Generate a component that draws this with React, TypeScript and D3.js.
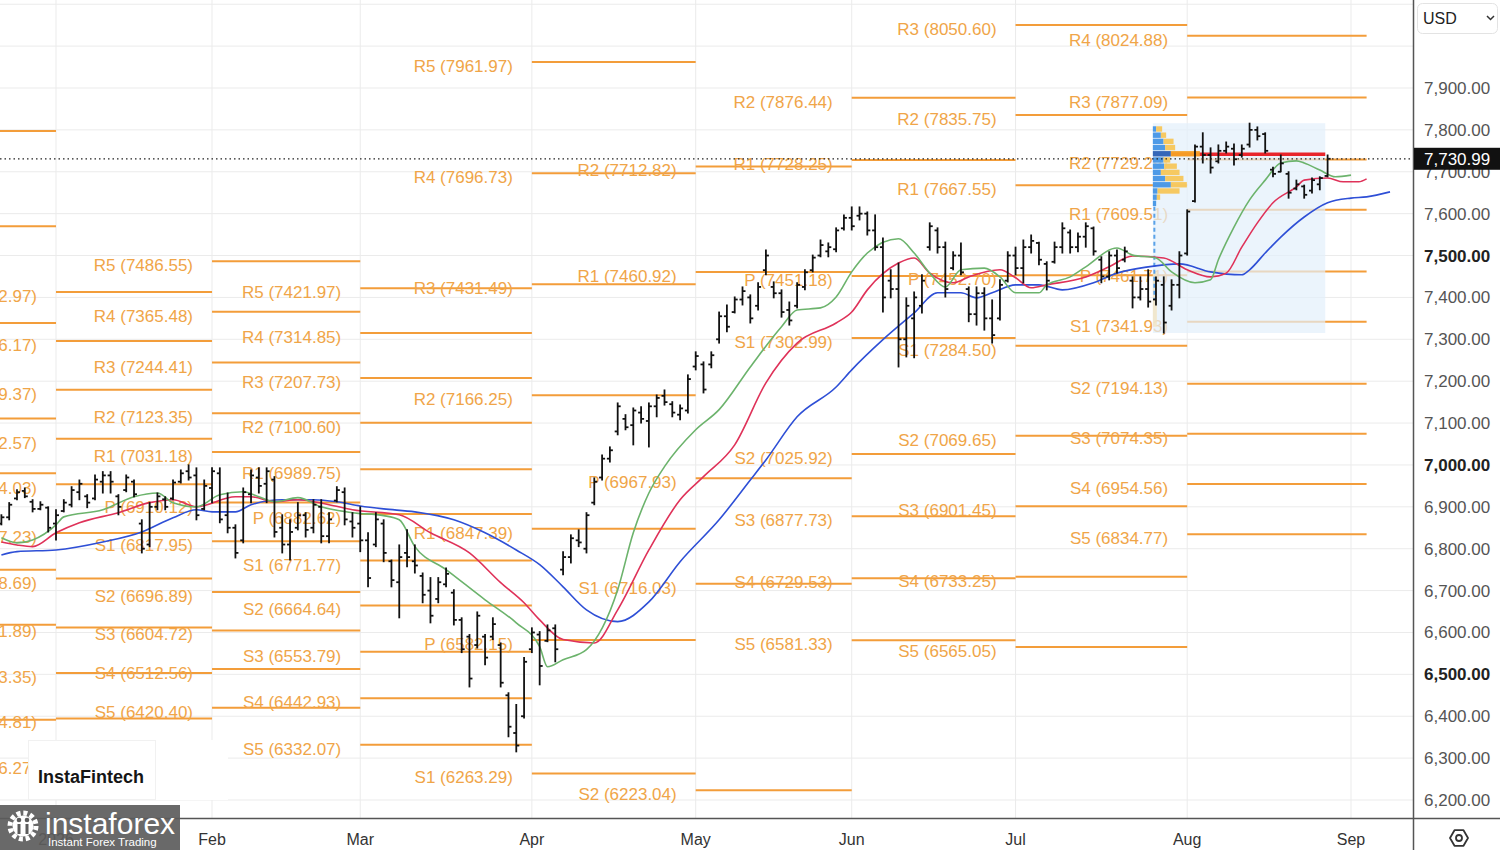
import React, { useEffect, useRef } from 'react';
import * as d3 from 'd3';

const font = 'Liberation Sans, Arial, Helvetica, sans-serif';

// x axis: trading-day index, 0 = first session of Jan 2026
const monthLabels = ['2026', 'Feb', 'Mar', 'Apr', 'May', 'Jun', 'Jul', 'Aug', 'Sep'];
const monthStarts = [0, 20, 39, 61, 82, 102, 123, 145, 166];

// price axis
const priceTicks = [6200, 6300, 6400, 6500, 6600, 6700, 6800, 6900, 7000, 7100, 7200, 7300, 7400, 7500, 7600, 7700, 7800, 7900];
const boldTicks = [6500, 7000, 7500];
const gridPrices = [6200, 6300, 6400, 6500, 6600, 6700, 6800, 6900, 7000, 7100, 7200, 7300, 7400, 7500, 7600, 7700, 7800, 7900, 8000, 8100];
const lastPrice = 7730.99;

// daily OHLC bars, first one is index -7 (late Dec 2025)
const firstBar = -7;
const bars = [
  [6860, 6881, 6857, 6875], [6875, 6910, 6869, 6905], [6920, 6941, 6917, 6935], [6938, 6945, 6922, 6925],
  [6912, 6917, 6888, 6895], [6895, 6912, 6893, 6905], [6898, 6900, 6840, 6850],
  // Jan
  [6860, 6893, 6821, 6880], [6890, 6917, 6888, 6910], [6905, 6948, 6900, 6940], [6935, 6964, 6917, 6955],
  [6925, 6929, 6898, 6910], [6920, 6976, 6917, 6965], [6960, 6984, 6933, 6975], [6975, 6984, 6933, 6960],
  [6925, 6929, 6881, 6900], [6940, 6976, 6936, 6970], [6960, 6964, 6924, 6930], [6860, 6869, 6790, 6800],
  [6810, 6910, 6805, 6900], [6900, 6933, 6893, 6925], [6918, 6924, 6893, 6900], [6920, 6964, 6917, 6958],
  [6960, 6988, 6957, 6980], [6985, 7000, 6964, 6970], [6975, 6993, 6869, 6880], [6895, 6964, 6893, 6950],
  // Feb
  [6945, 6993, 6910, 6985], [6980, 6993, 6862, 6870], [6880, 6933, 6838, 6850], [6850, 6857, 6778, 6790],
  [6820, 6945, 6814, 6935], [6930, 6988, 6910, 6975], [6970, 6993, 6933, 6950], [6955, 6993, 6910, 6985],
  [6965, 6972, 6828, 6840], [6850, 6881, 6790, 6810], [6810, 6869, 6773, 6840], [6850, 6910, 6845, 6880],
  [6880, 6886, 6828, 6845], [6850, 6917, 6838, 6905], [6900, 6917, 6814, 6830], [6830, 6886, 6814, 6870],
  [6915, 6948, 6912, 6940], [6935, 6945, 6857, 6870], [6865, 6886, 6828, 6850],
  // Mar
  [6860, 6900, 6793, 6820], [6820, 6838, 6709, 6730], [6810, 6886, 6805, 6870], [6860, 6869, 6769, 6790],
  [6770, 6773, 6709, 6725], [6720, 6809, 6635, 6780], [6790, 6845, 6757, 6780], [6770, 6809, 6742, 6760],
  [6735, 6742, 6671, 6690], [6700, 6731, 6623, 6640], [6680, 6731, 6671, 6720], [6715, 6754, 6709, 6740],
  [6695, 6702, 6618, 6630], [6630, 6635, 6552, 6560], [6590, 6595, 6470, 6490], [6570, 6649, 6563, 6640],
  [6590, 6595, 6523, 6540], [6590, 6635, 6583, 6620], [6570, 6575, 6470, 6480], [6450, 6456, 6351, 6375],
  [6360, 6428, 6315, 6330], [6400, 6540, 6396, 6530],
  // Apr
  [6560, 6611, 6552, 6600], [6595, 6602, 6475, 6520], [6580, 6618, 6578, 6605], [6610, 6618, 6530, 6560],
  [6750, 6793, 6738, 6780], [6780, 6833, 6766, 6825], [6820, 6845, 6805, 6815], [6800, 6886, 6790, 6880],
  [6910, 6969, 6905, 6960], [6970, 7024, 6964, 7015], [7015, 7043, 7007, 7035], [7080, 7148, 7072, 7140],
  [7110, 7120, 7084, 7090], [7095, 7136, 7048, 7130], [7125, 7139, 7100, 7110], [7105, 7148, 7043, 7140],
  [7140, 7167, 7115, 7160], [7165, 7179, 7143, 7150], [7145, 7151, 7115, 7125], [7120, 7143, 7108, 7135],
  [7130, 7215, 7124, 7205],
  // May
  [7235, 7270, 7227, 7260], [7240, 7246, 7172, 7180], [7240, 7270, 7232, 7262], [7300, 7365, 7291, 7355],
  [7355, 7382, 7318, 7330], [7365, 7401, 7363, 7395], [7395, 7425, 7382, 7415], [7400, 7406, 7339, 7350],
  [7380, 7435, 7370, 7425], [7465, 7513, 7454, 7500], [7425, 7437, 7399, 7410], [7410, 7418, 7353, 7365],
  [7370, 7389, 7334, 7345], [7380, 7435, 7375, 7430], [7425, 7466, 7418, 7460], [7465, 7501, 7461, 7495],
  [7500, 7537, 7497, 7525], [7510, 7530, 7497, 7520], [7515, 7566, 7509, 7560], [7565, 7597, 7561, 7590],
  // Jun
  [7590, 7616, 7561, 7570], [7595, 7616, 7585, 7600], [7600, 7604, 7549, 7560], [7560, 7597, 7513, 7520],
  [7520, 7542, 7365, 7400], [7440, 7466, 7399, 7420], [7420, 7482, 7234, 7300], [7300, 7399, 7258, 7380],
  [7350, 7413, 7256, 7400], [7380, 7454, 7363, 7440], [7520, 7578, 7513, 7570], [7560, 7566, 7506, 7520],
  [7520, 7532, 7401, 7420], [7470, 7509, 7466, 7500], [7500, 7530, 7454, 7460], [7420, 7425, 7342, 7360],
  [7360, 7425, 7334, 7410], [7410, 7423, 7322, 7350], [7350, 7394, 7291, 7310], [7350, 7442, 7346, 7430],
  [7440, 7509, 7437, 7500],
  // Jul
  [7500, 7520, 7454, 7470], [7470, 7537, 7435, 7520], [7520, 7549, 7506, 7535], [7530, 7532, 7478, 7490],
  [7480, 7485, 7418, 7440], [7485, 7532, 7482, 7520], [7520, 7578, 7506, 7565], [7555, 7561, 7506, 7520],
  [7520, 7554, 7509, 7545], [7545, 7578, 7520, 7570], [7565, 7568, 7501, 7510], [7490, 7497, 7435, 7450],
  [7450, 7509, 7442, 7500], [7500, 7513, 7458, 7470], [7490, 7520, 7485, 7510], [7440, 7449, 7375, 7400],
  [7400, 7449, 7394, 7420], [7420, 7466, 7377, 7390], [7395, 7449, 7382, 7440], [7430, 7449, 7315, 7340],
  [7380, 7442, 7370, 7430], [7430, 7509, 7399, 7500],
  // Aug
  [7505, 7609, 7501, 7605], [7630, 7764, 7628, 7760], [7760, 7793, 7721, 7740], [7740, 7757, 7697, 7710],
  [7725, 7764, 7721, 7750], [7750, 7771, 7745, 7760], [7755, 7766, 7716, 7730], [7740, 7764, 7735, 7755],
  [7765, 7816, 7759, 7800], [7800, 7807, 7776, 7785], [7790, 7793, 7745, 7750], [7705, 7711, 7688, 7695],
  [7700, 7740, 7700, 7720], [7695, 7700, 7637, 7650], [7660, 7680, 7657, 7670], [7665, 7668, 7637, 7645],
  [7655, 7685, 7649, 7680], [7670, 7688, 7657, 7685], [7690, 7740, 7688, 7730.99],
];

// moving averages (shifted forward), [bar index, value]
const greenMA = [
  [-7, 6826], [-5, 6814], [-3, 6821], [0, 6857], [1, 6876], [6, 6893], [10, 6924], [13, 6933], [15, 6910], [18, 6900],
  [21, 6929], [24, 6936], [26, 6924], [28, 6912], [31, 6922], [34, 6900], [38, 6886], [42, 6879], [44, 6869], [46, 6805],
  [50, 6750], [55, 6678], [59, 6623], [62, 6566], [63, 6518], [65, 6535], [68, 6559], [72, 6702], [74, 6838], [76, 6933],
  [78, 6996], [82, 7084], [85, 7132], [89, 7234], [93, 7330], [95, 7370], [98, 7375], [100, 7401], [102, 7461], [104, 7506],
  [108, 7540], [110, 7506], [112, 7458], [114, 7425], [116, 7466], [119, 7470], [121, 7449], [123, 7411], [126, 7411],
  [127, 7430], [130, 7449], [132, 7473], [136, 7518], [138, 7501], [141, 7494], [143, 7461], [146, 7435], [148, 7442],
  [149, 7490], [151, 7568], [153, 7633], [155, 7680], [157, 7721], [159, 7726], [160, 7721], [162, 7704], [164, 7688], [166, 7692],
];
const redMA = [
  [-7, 6816], [-5, 6809], [-3, 6805], [0, 6838], [3, 6862], [8, 6886], [12, 6910], [15, 6917], [18, 6900], [23, 6924],
  [25, 6924], [28, 6912], [31, 6917], [35, 6905], [38, 6893], [44, 6881], [48, 6838], [53, 6790], [57, 6719], [60, 6671],
  [62, 6630], [65, 6583], [69, 6575], [72, 6654], [76, 6797], [80, 6917], [83, 6972], [87, 7048], [91, 7196], [95, 7291],
  [100, 7339], [102, 7365], [104, 7418], [108, 7482], [110, 7494], [112, 7458], [115, 7435], [117, 7449], [121, 7466],
  [123, 7447], [125, 7423], [127, 7430], [132, 7449], [135, 7473], [138, 7499], [142, 7494], [145, 7466], [148, 7449],
  [150, 7458], [152, 7520], [154, 7578], [156, 7626], [159, 7664], [160, 7680], [163, 7685], [165, 7676], [167, 7676], [168, 7683],
];
const blueMA = [
  [-7, 6785], [-5, 6793], [0, 6797], [6, 6816], [11, 6840], [15, 6874], [18, 6893], [20, 6888], [23, 6888], [25, 6905],
  [29, 6917], [33, 6917], [36, 6912], [39, 6902], [42, 6895], [46, 6888], [51, 6869], [55, 6838], [59, 6797], [62, 6762],
  [65, 6709], [68, 6654], [72, 6626], [76, 6673], [80, 6769], [85, 6869], [89, 6964], [91, 7012], [95, 7115], [100, 7186],
  [102, 7227], [106, 7299], [110, 7363], [113, 7411], [116, 7411], [118, 7399], [120, 7411], [123, 7430], [126, 7430],
  [129, 7418], [133, 7435], [136, 7458], [140, 7473], [144, 7480], [148, 7461], [152, 7454], [153, 7466], [155, 7506],
  [157, 7544], [160, 7592], [163, 7626], [166, 7637], [168, 7640], [171, 7652],
];

// monthly pivot levels
const pivotDec = [['R4', 7797.4], ['R3', 7569.9], ['R2', 7339.1], ['R1', 7111.0], ['P', 6980.4], ['S1', 6749.7], ['S2', 6618.4], ['S3', 6391.7]];
const pivotJan = [['R5', 7412.97], ['R4', 7296.17], ['R3', 7179.37], ['R2', 7062.57], ['R1', 6954.03], ['P', 6837.23], ['S1', 6728.69], ['S2', 6611.89], ['S3', 6503.35], ['S4', 6394.81], ['S5', 6286.27]];
const pivotFeb = [['R5', 7486.55], ['R4', 7365.48], ['R3', 7244.41], ['R2', 7123.35], ['R1', 7031.18], ['P', 6910.12], ['S1', 6817.95], ['S2', 6696.89], ['S3', 6604.72], ['S4', 6512.56], ['S5', 6420.40]];
const pivotMar = [['R5', 7421.97], ['R4', 7314.85], ['R3', 7207.73], ['R2', 7100.60], ['R1', 6989.75], ['P', 6882.62], ['S1', 6771.77], ['S2', 6664.64], ['S3', 6553.79], ['S4', 6442.93], ['S5', 6332.07]];
const pivotApr = [['R5', 7961.97], ['R4', 7696.73], ['R3', 7431.49], ['R2', 7166.25], ['R1', 6847.39], ['P', 6582.15], ['S1', 6263.29]];
const pivotMay = [['R2', 7712.82], ['R1', 7460.92], ['P', 6967.93], ['S1', 6716.03], ['S2', 6223.04]];
const pivotJun = [['R2', 7876.44], ['R1', 7728.25], ['P', 7451.18], ['S1', 7302.99], ['S2', 7025.92], ['S3', 6877.73], ['S4', 6729.53], ['S5', 6581.33]];
const pivotJul = [['R3', 8050.60], ['R2', 7835.75], ['R1', 7667.55], ['P', 7452.70], ['S1', 7284.50], ['S2', 7069.65], ['S3', 6901.45], ['S4', 6733.25], ['S5', 6565.05]];
const pivotAug = [['R4', 8024.88], ['R3', 7877.09], ['R2', 7729.29], ['R1', 7609.51], ['P', 7461.71], ['S1', 7341.93], ['S2', 7194.13], ['S3', 7074.35], ['S4', 6954.56], ['S5', 6834.77]];
const pivotFrom = [-22, 0, 20, 39, 61, 82, 102, 123, 145];
const pivotTo = [0, 20, 39, 61, 82, 102, 123, 145, 168];

// fixed range volume profile (late Jul - Aug)
const profileUp = [33, 80, 107, 123, 180, 107, 113, 80, 123, 180, 47, 40, 33];
const profileDown = [60, 53, 100, 100, 290, 67, 127, 187, 183, 160, 220, 33, 0];
const profileTop = 7808.6;
const profileStep = 14.8;
const pocRow = 4;
const rangeFrom = 140.6;
const rangeTo = 162.7;
const rangeHigh = 7816;
const rangeLow = 7315;

const App = () => {
  const chartRef = useRef<SVGSVGElement | null>(null);

  useEffect(() => {
    const svg = d3.select(chartRef.current);
    svg.selectAll('*').remove();

    const width = 1500;
    const height = 850;
    const plotRight = 1413;
    const plotBottom = 818;

    const x = d3.scaleLinear().domain([0, 166]).range([56, 1351]);
    const y = d3.scaleLinear().domain([6200, 7900]).range([800, 88]);

    svg.append('rect').attr('width', width).attr('height', height).attr('fill', '#fff');

    svg.append('defs').append('clipPath').attr('id', 'plot-clip')
      .append('rect').attr('width', plotRight).attr('height', plotBottom);

    const plot = svg.append('g').attr('clip-path', 'url(#plot-clip)');

    // grid
    plot.selectAll('line.hgrid').data(gridPrices).join('line')
      .attr('class', 'hgrid')
      .attr('x1', 0).attr('x2', plotRight)
      .attr('y1', d => y(d)).attr('y2', d => y(d))
      .attr('stroke', '#ebebeb').attr('stroke-width', 1);
    plot.selectAll('line.vgrid').data(monthStarts).join('line')
      .attr('class', 'vgrid')
      .attr('x1', d => x(d)).attr('x2', d => x(d))
      .attr('y1', 0).attr('y2', plotBottom)
      .attr('stroke', '#ebebeb').attr('stroke-width', 1);

    // pivot levels, labels sit right-aligned just before the month they belong to
    const pivotSets = [pivotDec, pivotJan, pivotFeb, pivotMar, pivotApr, pivotMay, pivotJun, pivotJul, pivotAug];
    pivotSets.forEach((levels, k) => {
      const g = plot.append('g');
      const labelX = x(pivotFrom[k]) - 19;
      g.selectAll('line').data(levels).join('line')
        .attr('x1', x(pivotFrom[k])).attr('x2', x(pivotTo[k]))
        .attr('y1', (d: any) => y(d[1])).attr('y2', (d: any) => y(d[1]))
        .attr('stroke', '#f39d3a').attr('stroke-width', 2);
      if (labelX <= 0) return; // label lies off the left edge
      g.selectAll('text').data(levels).join('text')
        .attr('x', labelX)
        .attr('y', (d: any) => y(d[1]) + 10)
        .attr('text-anchor', 'end')
        .attr('font-size', 17)
        .attr('fill', '#f0a548')
        .text((d: any) => `${d[0]} (${d[1].toFixed(2)})`);
    });

    // volume profile
    plot.append('rect')
      .attr('x', x(rangeFrom)).attr('width', x(rangeTo) - x(rangeFrom))
      .attr('y', y(rangeHigh)).attr('height', y(rangeLow) - y(rangeHigh))
      .attr('fill', '#e3effb').attr('opacity', 0.7);

    const pocPrice = profileTop - (pocRow + 0.5) * profileStep;
    plot.append('line')
      .attr('x1', x(143)).attr('x2', x(rangeTo))
      .attr('y1', y(pocPrice)).attr('y2', y(pocPrice))
      .attr('stroke', '#e8252b').attr('stroke-width', 3.5);

    const vol = d3.scaleLinear().domain([0, 470]).range([0, 47]);
    const px0 = x(rangeFrom);
    profileUp.forEach((u, k) => {
      const top = y(profileTop - k * profileStep);
      const h = y(profileTop - (k + 1) * profileStep) - top - 0.8;
      const isPoc = k === pocRow;
      plot.append('rect').attr('x', px0).attr('y', top).attr('width', vol(u)).attr('height', h)
        .attr('fill', isPoc ? '#2c5fb4' : '#4595e6').attr('opacity', 0.95);
      plot.append('rect').attr('x', px0 + vol(u)).attr('y', top).attr('width', vol(profileDown[k])).attr('height', h)
        .attr('fill', isPoc ? '#f5a026' : '#f7c65a').attr('opacity', 0.95);
    });
    plot.append('rect')
      .attr('x', px0).attr('width', 4)
      .attr('y', y(7460)).attr('height', y(7330) - y(7460))
      .attr('fill', '#f1e3c2').attr('opacity', 0.8);
    plot.append('line')
      .attr('x1', px0 + 1.5).attr('x2', px0 + 1.5)
      .attr('y1', y(profileTop - profileUp.length * profileStep)).attr('y2', y(7394))
      .attr('stroke', '#5aa2e8').attr('stroke-width', 2).attr('stroke-dasharray', '4 3');

    // moving averages
    const maLine = d3.line<number[]>()
      .x(d => x(d[0]))
      .y(d => y(d[1]))
      .curve(d3.curveMonotoneX);
    const maSets: [number[][], string][] = [
      [blueMA, '#2e4fd6'],
      [redMA, '#df3259'],
      [greenMA, '#6cb36c'],
    ];
    maSets.forEach(([data, color]) => {
      plot.append('path').datum(data)
        .attr('d', maLine)
        .attr('fill', 'none')
        .attr('stroke', color)
        .attr('stroke-width', 1.6);
    });

    // OHLC bars
    const barG = plot.append('g').attr('stroke', '#111').attr('stroke-width', 1.8);
    bars.forEach((b, k) => {
      const cx = x(firstBar + k);
      barG.append('line').attr('x1', cx).attr('x2', cx).attr('y1', y(b[1]) - 0.5).attr('y2', y(b[2]) + 0.5);
      barG.append('line').attr('x1', cx - 3).attr('x2', cx).attr('y1', y(b[0])).attr('y2', y(b[0]));
      barG.append('line').attr('x1', cx).attr('x2', cx + 3).attr('y1', y(b[3])).attr('y2', y(b[3]));
    });

    // last price dotted line
    plot.append('line')
      .attr('x1', 0).attr('x2', plotRight)
      .attr('y1', y(lastPrice)).attr('y2', y(lastPrice))
      .attr('stroke', '#222').attr('stroke-width', 1.2).attr('stroke-dasharray', '1.5 3');

    // watermark box
    svg.append('rect').attr('x', 28).attr('y', 740).attr('width', 200).attr('height', 60).attr('fill', '#fff');
    svg.append('rect').attr('x', 28.5).attr('y', 740.5).attr('width', 127).attr('height', 59)
      .attr('fill', 'none').attr('stroke', '#f1f1f1');
    svg.append('text').attr('x', 38).attr('y', 783)
      .attr('font-size', 18).attr('font-weight', 600).attr('fill', '#151515')
      .text('InstaFintech');

    // axes
    svg.append('line').attr('x1', 0).attr('x2', width).attr('y1', plotBottom + 0.5).attr('y2', plotBottom + 0.5)
      .attr('stroke', '#555').attr('stroke-width', 1.5);
    svg.append('line').attr('x1', plotRight + 0.5).attr('x2', plotRight + 0.5).attr('y1', 0).attr('y2', height)
      .attr('stroke', '#555').attr('stroke-width', 1.5);

    svg.selectAll('text.ptick').data(priceTicks).join('text')
      .attr('class', 'ptick')
      .attr('x', 1424).attr('y', d => y(d) + 6)
      .attr('font-size', 17)
      .attr('font-weight', d => (boldTicks.includes(d) ? 'bold' : 'normal'))
      .attr('fill', d => (boldTicks.includes(d) ? '#222' : '#555'))
      .text(d => d3.format(',.2f')(d));

    svg.append('rect').attr('x', plotRight + 1).attr('y', y(lastPrice) - 11).attr('width', width - plotRight - 1).attr('height', 22)
      .attr('fill', '#111');
    svg.append('text').attr('x', 1424).attr('y', y(lastPrice) + 6)
      .attr('font-size', 17).attr('fill', '#fff')
      .text(d3.format(',.2f')(lastPrice));

    // currency box
    svg.append('rect').attr('x', 1417.5).attr('y', 3.5).attr('width', 80).attr('height', 30).attr('rx', 5)
      .attr('fill', '#fff').attr('stroke', '#e3e3e3');
    svg.append('text').attr('x', 1423).attr('y', 24).attr('font-size', 16).attr('fill', '#222').text('USD');
    svg.append('path').attr('d', 'M1487 16 l3.5 3.5 l3.5 -3.5').attr('fill', 'none').attr('stroke', '#333').attr('stroke-width', 1.5);

    // month labels
    svg.selectAll('text.mtick').data(monthStarts).join('text')
      .attr('class', 'mtick')
      .attr('x', d => x(d)).attr('y', 845)
      .attr('text-anchor', 'middle')
      .attr('font-size', 16).attr('fill', '#333')
      .text((d, k) => monthLabels[k]);

    // settings icon
    const hex = d3.range(6).map(k => {
      const a = (Math.PI / 3) * k;
      return [1459 + 9 * Math.cos(a), 838 + 9 * Math.sin(a)];
    });
    svg.append('polygon').attr('points', hex.map(p => p.join(',')).join(' '))
      .attr('fill', 'none').attr('stroke', '#333').attr('stroke-width', 1.8).attr('stroke-linejoin', 'round');
    svg.append('circle').attr('cx', 1459).attr('cy', 838).attr('r', 3).attr('fill', 'none').attr('stroke', '#333').attr('stroke-width', 1.8);

    // logo
    const logo = svg.append('g');
    logo.append('rect').attr('x', 0).attr('y', 805).attr('width', 180).attr('height', 45)
      .attr('fill', '#5c5c5c').attr('opacity', 0.92);
    logo.append('circle').attr('cx', 23).attr('cy', 826).attr('r', 13)
      .attr('fill', 'none').attr('stroke', '#fff').attr('stroke-width', 5).attr('stroke-dasharray', '4 2.8');
    logo.append('circle').attr('cx', 23).attr('cy', 826).attr('r', 10.5).attr('fill', '#fff');
    logo.append('circle').attr('cx', 19).attr('cy', 820).attr('r', 2.3).attr('fill', '#5c5c5c');
    logo.append('circle').attr('cx', 27).attr('cy', 820).attr('r', 2.3).attr('fill', '#5c5c5c');
    logo.append('rect').attr('x', 17.5).attr('y', 824).attr('width', 3).attr('height', 10).attr('fill', '#5c5c5c');
    logo.append('rect').attr('x', 25.5).attr('y', 824).attr('width', 3).attr('height', 10).attr('fill', '#5c5c5c');
    logo.append('text').attr('x', 45).attr('y', 834)
      .attr('font-size', 30).attr('fill', '#fff').attr('font-weight', 300)
      .text('instaforex');
    logo.append('text').attr('x', 48).attr('y', 846)
      .attr('font-size', 11.5).attr('fill', '#fff')
      .text('Instant Forex Trading');
  }, []);

  return (
    <div style={{ position: 'absolute', left: 0, top: 0 }}>
      <svg ref={chartRef} width={1500} height={850} style={{ display: 'block', fontFamily: font }} />
    </div>
  );
};

export default App;
